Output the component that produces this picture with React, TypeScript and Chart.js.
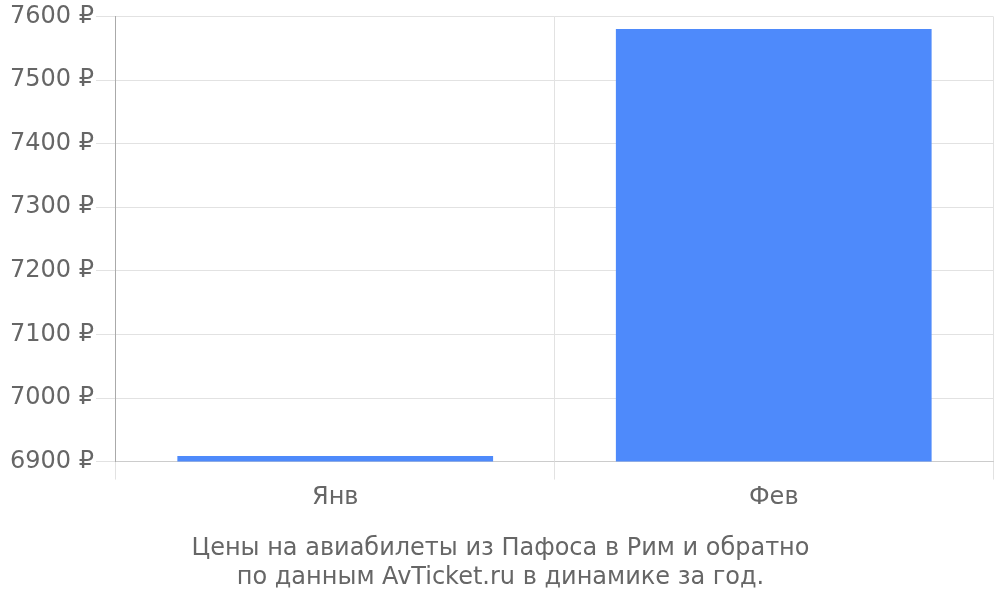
import { useEffect, useRef } from 'react';
import Chart from 'chart.js/auto';

const months = ['Янв', 'Фев'];
const prices = [6909, 7580];
const yTicks = [6900, 7000, 7100, 7200, 7300, 7400, 7500, 7600];
const caption = ['Цены на авиабилеты из Пафоса в Рим и обратно', 'по данным AvTicket.ru в динамике за год.'];

const App = () => {
  const canvasRef = useRef<HTMLCanvasElement>(null);

  useEffect(() => {
    if (!canvasRef.current) return;
    const font = { family: '"DejaVu Sans"', size: 24 };
    const chart = new Chart(canvasRef.current, {
      type: 'bar',
      data: {
        labels: months,
        datasets: [
          {
            data: prices,
            backgroundColor: '#4e8afb',
            borderWidth: 0,
          },
        ],
      },
      options: {
        responsive: false,
        animation: false,
        layout: { padding: { left: 8, right: 7, top: 2, bottom: 8 } },
        plugins: {
          legend: { display: false },
          tooltip: { enabled: false },
          title: {
            display: true,
            position: 'bottom',
            text: caption,
            color: '#666666',
            font: { ...font, weight: 'normal', lineHeight: 1.2 },
            padding: { top: 18, bottom: 0 },
          },
        },
        scales: {
          x: {
            grid: { color: '#e2e2e2', tickLength: 18, offset: true },
            border: { color: '#cccccc' },
            ticks: { color: '#666666', font, padding: 4 },
          },
          y: {
            min: yTicks[0],
            max: yTicks[yTicks.length - 1],
            afterBuildTicks: (axis) => {
              axis.ticks = yTicks.map((v) => ({ value: v }));
            },
            grid: { color: '#e2e2e2', tickLength: 20 },
            border: { color: '#aaaaaa' },
            ticks: {
              color: '#666666',
              font,
              padding: 2,
              callback: (v) => `${v} ₽`,
            },
          },
        },
      },
    });
    return () => chart.destroy();
  }, []);

  return (
    <div style={{ position: 'fixed', left: 0, top: 0, width: 1000, height: 600, background: '#fff' }}>
      <canvas ref={canvasRef} width={1000} height={600} />
    </div>
  );
};

export default App;
